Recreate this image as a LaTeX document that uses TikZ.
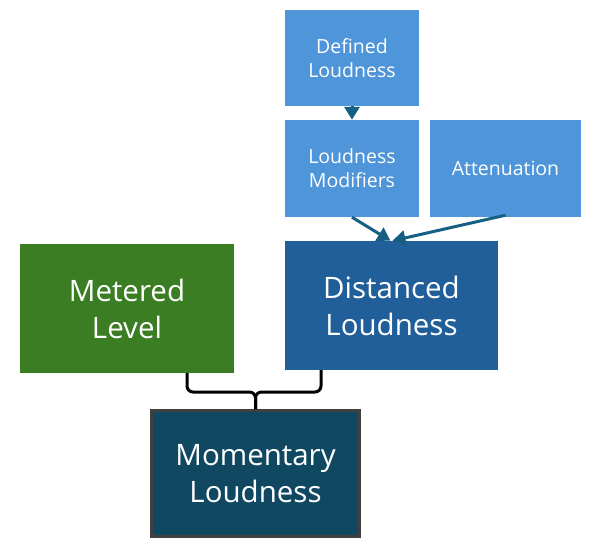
\documentclass[tikz,border=0pt]{standalone}
\usepackage{fontspec}
\setmainfont{Open Sans}
\usetikzlibrary{arrows.meta}
\definecolor{lblue}{HTML}{4E95D9}
\definecolor{mgreen}{HTML}{3B7D23}
\definecolor{dblue}{HTML}{215F9A}
\definecolor{dteal}{HTML}{104862}
\definecolor{arr}{HTML}{156082}
\definecolor{bord}{HTML}{404040}
\tikzset{
  small/.style={fill=lblue, text=white, inner sep=0pt, align=center, font=\fontsize{19.5}{24}\selectfont},
  big/.style={text=white, inner sep=0pt, align=center, font=\fontsize{29.5}{37}\selectfont},
  arrow/.style={draw=arr, line width=3pt, -{Triangle[length=13pt,width=15pt]}},
  brace/.style={draw=black, line width=3pt, rounded corners=6pt}
}
\begin{document}
\begin{tikzpicture}[x=1pt,y=-1pt]
\useasboundingbox (0,0) rectangle (598,550);
\node[small, minimum width=134pt, minimum height=96pt] (def) at (352,58) {Defined\\Loudness};
\node[small, minimum width=134pt, minimum height=97pt] (mod) at (352,168.5) {Loudness\\Modifiers};
\node[small, minimum width=151pt, minimum height=97pt] (att) at (505.5,168.5) {Attenuation};
\node[big, fill=mgreen, minimum width=214pt, minimum height=129pt] (met) at (127,308.5) {Metered\\Level};
\node[big, fill=dblue, minimum width=213pt, minimum height=129pt] (dist) at (391.5,305.5) {Distanced\\Loudness};
\node[big, fill=dteal, draw=bord, line width=3pt, minimum width=208pt, minimum height=126pt] (mom) at (255.5,473.5) {Momentary\\Loudness};
\draw[arrow] (def.south) -- (mod.north);
\draw[arrow] (mod.south) -- ([xshift=-1pt]dist.north);
\draw[arrow] ([yshift=2pt]att.south) -- ([xshift=1pt]dist.north);
\coordinate (bl) at ([xshift=60pt]met.south);
\coordinate (br) at ([xshift=-70.5pt]dist.south);
\coordinate (bm) at (mom.north);
\draw[brace] (bl) |- ([yshift=17pt]bm) -- (bm);
\draw[brace] (br) |- ([yshift=17pt]bm) -- (bm);
\end{tikzpicture}
\end{document}
